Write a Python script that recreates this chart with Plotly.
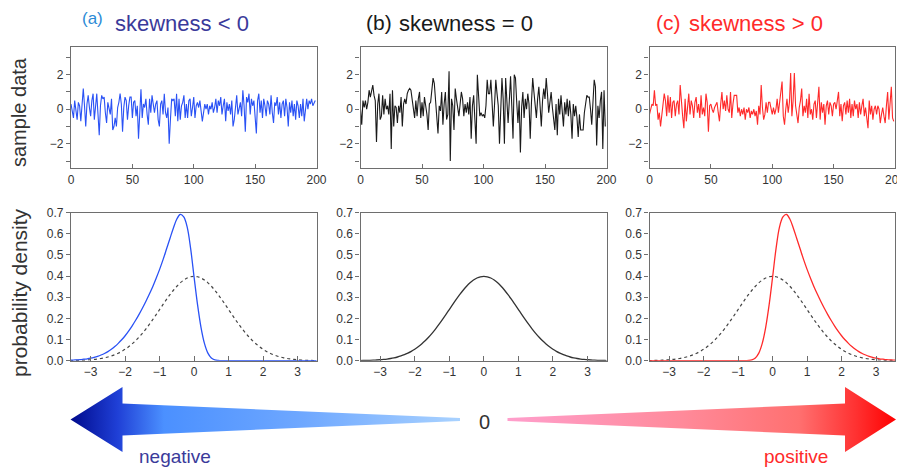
import plotly.graph_objects as go

# ---------------- data ----------------
sample_index = list(range(200))

sample_negative = [
    0.3, -0.2, -0.5, 0.5, -0.1, -0.6, 0.4, 0.2, -0.7, 0.3,
    1.2, 0.2, -1.0, 0.3, 0.8, 0.1, -0.4, 0.5, 0.9, -0.6,
    0.3, 0.9, -0.3, -1.5, 0.2, 0.8, 0.6, 0.7, -0.2, -0.8,
    0.4, 0.1, -0.3, 0.6, -1.2, -1.0, -0.5, -1.0, 0.1, 0.4,
    0.9, 0.3, -1.3, 0.1, 0.7, 0.5, -0.6, 0.2, 0.7, 0.7,
    -0.5, 0.4, 0.5, -0.4, 0.2, -1.7, 0.2, 1.15, -0.5, 0.3,
    0.1, 0.6, -0.3, -0.9, 0.6, -0.2, 0.8, 0.3, -0.2, 0.3,
    0.5, -0.6, -1.0, 0.3, 0.5, -0.3, 0.9, -0.2, -0.5, 0.1,
    -2.0, -0.6, 0.6, 0.5, 0.6, -0.4, 0.9, -0.7, 0.6, -0.6,
    0.2, 0.4, 0.8, -0.5, 0.3, -0.5, 0.5, 0.6, -0.4, 0.1,
    0.7, -0.5, 0.2, 0.4, 0.1, 0.5, -0.2, -0.7, -0.2, 0.3,
    0.0, 0.3, -0.3, 0.2, 0.0, 0.4, -0.2, 0.1, 0.6, -0.2,
    0.5, 0.2, 0.7, -0.3, 0.2, 0.6, -0.7, 0.4, -0.1, 0.3,
    -0.3, 0.5, -1.0, -0.6, 0.1, 0.8, -0.3, 0.2, 0.4, -0.4,
    1.1, 0.2, -1.3, 0.7, 0.4, 0.9, -0.3, 0.6, 0.2, 0.5,
    -0.3, -1.4, 0.5, 0.9, -0.2, 0.5, -0.5, 0.6, 0.2, -0.4,
    0.5, 0.3, -0.3, 0.8, -0.2, -0.8, 0.4, 0.2, 0.7, -0.3,
    0.4, -0.5, 0.3, 0.5, -0.4, 0.6, 0.1, -1.0, 0.4, -0.2,
    0.5, -0.4, 0.3, -0.6, 0.5, 0.2, -0.5, 0.3, -0.4, 0.6,
    -0.7, 0.1, 0.6, 0.0, 0.5, 0.3, 0.6, 0.2, 0.4, 0.5,
]

sample_zero = [
    0.0, -0.9, 0.5, 0.1, 0.5, 0.0, 0.4, 1.1, 0.7, 1.0,
    1.4, 0.8, 0.5, -1.9, 0.3, 0.9, -0.6, -0.4, 0.8, -0.3,
    0.6, 0.0, 0.2, -0.3, 0.9, -2.3, 1.1, -1.0, 0.2, 0.1,
    -0.8, 0.2, -0.2, 0.7, -1.0, 0.3, 0.6, 0.3, 0.9, 1.1,
    1.2, 1.1, 0.6, 0.3, -0.5, 0.5, -0.4, 0.6, 1.0, -0.5,
    0.4, -0.4, 0.7, 0.2, -0.3, -1.2, 0.3, 0.4, 1.2, 1.8,
    1.5, 0.4, -0.2, -1.4, 0.2, -0.1, 1.0, -0.9, 0.3, 1.0,
    -0.6, -0.3, 2.2, -3.0, 0.6, 0.2, -1.2, 1.2, 0.6, 0.1,
    -0.4, 0.3, 1.0, 0.6, -0.4, 0.3, -0.2, 0.4, -0.3, 0.7,
    -1.7, 0.2, 0.8, -0.6, -2.0, 2.0, 0.7, -0.4, -0.2, -0.4,
    -0.3, -0.5, 0.2, 1.7, 0.9, 0.9, 1.7, 0.2, -1.0, 0.3,
    1.7, 0.9, 0.2, -2.0, 0.4, 1.8, 0.6, -2.0, 1.8, 0.3,
    -0.8, 0.5, 1.9, 0.2, -1.7, 2.0, 1.8, 0.4, -0.8, 0.5,
    -2.5, 0.1, 1.0, -0.5, 0.6, 0.0, 0.9, 0.3, -1.7, 0.4,
    1.8, 1.0, 0.4, -0.5, 0.6, 1.3, 0.2, -1.0, 0.5, 1.2,
    0.6, 1.8, 0.9, -0.2, 0.4, 1.0, 0.1, -0.6, -1.2, 0.3,
    -1.5, 0.6, -0.3, 0.8, 0.1, -1.0, 0.4, -0.3, 0.6, -0.4,
    0.5, -0.3, -1.7, 0.3, -0.4, 0.2, -0.5, -1.6, -0.3, -1.2,
    -1.2, -1.2, -0.2, 0.3, 0.8, 0.7, 0.7, 0.0, -0.9, 0.4,
    1.7, 1.3, -2.1, 0.2, -0.5, 0.5, 1.0, -2.3, 1.1, -1.0,
]

sample_positive = [
    -0.3, 0.1, 0.3, 0.2, 1.1, 0.2, 0.3, -0.6, -0.2, -1.0,
    -0.3, 0.2, 0.9, 0.5, -0.4, 0.8, -0.2, 0.7, -0.5, 0.4,
    0.5, -0.4, 0.3, 0.5, -0.3, 1.4, 0.2, -0.4, -1.1, 0.6,
    -0.7, 0.3, 0.9, -0.3, 0.5, 0.2, -0.5, 0.4, 0.7, -0.2,
    0.3, -0.5, 0.8, -0.3, 0.1, -0.4, 0.9, 0.4, -1.3, 0.2,
    0.3, 0.0, -0.2, 0.1, 0.3, 0.4, -0.2, -0.7, 0.3, 1.0,
    0.0, 0.5, -0.1, 0.8, 0.0, -0.2, 1.0, -0.5, 0.3, 0.8,
    0.8, 0.8, -0.2, 0.1, -0.4, 0.0, -0.3, 0.1, -0.6, 0.0,
    -0.2, 0.1, -0.5, -0.1, -0.3, 0.0, -0.4, -0.1, -0.9, 0.2,
    -0.3, 1.4, 0.1, -0.6, -0.3, 0.4, -0.2, 0.4, 0.4, -0.1,
    -0.3, 0.1, -0.3, 0.0, 0.6, -0.2, 0.3, 0.9, 1.6, -0.4,
    -0.9, 0.0, 0.6, -0.2, 0.4, 2.1, -0.4, 0.5, 2.1, 0.2,
    -0.3, -0.8, 0.1, 0.5, 1.2, -0.4, 0.2, -0.2, 0.6, -0.5,
    0.9, -0.3, 0.0, -0.6, 0.3, 0.5, -0.5, 0.2, 1.3, -0.6,
    0.4, -0.2, 0.3, -0.9, 0.2, 0.5, -0.3, 0.4, 0.2, -0.4,
    0.3, 0.4, 0.0, 0.5, 1.0, -0.4, 0.3, -0.7, 0.2, 0.4,
    -0.3, 0.5, -0.2, 0.6, -0.5, 0.3, -0.4, 0.5, 0.0, 0.3,
    -0.5, 0.4, -0.3, 0.2, 0.6, -0.4, 0.1, -0.5, -1.1, 0.5,
    -0.3, 0.2, -0.6, 0.0, 0.2, -0.3, 0.2, 0.0, -0.8, -0.3,
    0.1, -0.4, -0.8, 0.2, 1.0, -0.6, 0.3, 1.3, -0.5, -0.7,
]

density_x = [
    -3.6, -3.5, -3.4, -3.3, -3.2, -3.1, -3.0, -2.9, -2.8, -2.7,
    -2.6, -2.5, -2.4, -2.3, -2.2, -2.1, -2.0, -1.9, -1.8, -1.7,
    -1.6, -1.5, -1.4, -1.3, -1.2, -1.1, -1.0, -0.9, -0.8, -0.7,
    -0.6, -0.5, -0.4, -0.3, -0.2, -0.1, 0.0, 0.1, 0.2, 0.3,
    0.4, 0.5, 0.6, 0.7, 0.8, 0.9, 1.0, 1.1, 1.2, 1.3,
    1.4, 1.5, 1.6, 1.7, 1.8, 1.9, 2.0, 2.1, 2.2, 2.3,
    2.4, 2.5, 2.6, 2.7, 2.8, 2.9, 3.0, 3.1, 3.2, 3.3,
    3.4, 3.5, 3.6,
]

density_normal = [
    0.0006, 0.0009, 0.0012, 0.0017, 0.0024, 0.0033, 0.0044, 0.0060, 0.0079, 0.0104,
    0.0136, 0.0175, 0.0224, 0.0283, 0.0355, 0.0440, 0.0540, 0.0656, 0.0790, 0.0940,
    0.1109, 0.1295, 0.1497, 0.1714, 0.1942, 0.2179, 0.2420, 0.2661, 0.2897, 0.3123,
    0.3332, 0.3521, 0.3683, 0.3814, 0.3910, 0.3970, 0.3989, 0.3970, 0.3910, 0.3814,
    0.3683, 0.3521, 0.3332, 0.3123, 0.2897, 0.2661, 0.2420, 0.2179, 0.1942, 0.1714,
    0.1497, 0.1295, 0.1109, 0.0940, 0.0790, 0.0656, 0.0540, 0.0440, 0.0355, 0.0283,
    0.0224, 0.0175, 0.0136, 0.0104, 0.0079, 0.0060, 0.0044, 0.0033, 0.0024, 0.0017,
    0.0012, 0.0009, 0.0006,
]

density_negative = [
    0.002, 0.003, 0.004, 0.005, 0.007, 0.009, 0.012, 0.016, 0.021, 0.027,
    0.034, 0.043, 0.054, 0.067, 0.082, 0.099, 0.118, 0.140, 0.164, 0.190,
    0.218, 0.248, 0.280, 0.314, 0.350, 0.390, 0.432, 0.478, 0.528, 0.578,
    0.628, 0.670, 0.692, 0.680, 0.632, 0.530, 0.395, 0.265, 0.158, 0.082,
    0.036, 0.013, 0.004, 0.001, 0.0, 0.0, 0.0, 0.0, 0.0, 0.0,
    0.0, 0.0, 0.0, 0.0, 0.0, 0.0, 0.0, 0.0, 0.0, 0.0,
    0.0, 0.0, 0.0, 0.0, 0.0, 0.0, 0.0, 0.0, 0.0, 0.0,
    0.0, 0.0, 0.0,
]

density_positive = [
    0.0, 0.0, 0.0, 0.0, 0.0, 0.0, 0.0, 0.0, 0.0, 0.0,
    0.0, 0.0, 0.0, 0.0, 0.0, 0.0, 0.0, 0.0, 0.0, 0.0,
    0.0, 0.0, 0.0, 0.0, 0.0, 0.0, 0.0, 0.0, 0.0, 0.001,
    0.004, 0.013, 0.036, 0.082, 0.158, 0.265, 0.395, 0.530, 0.632, 0.680,
    0.692, 0.670, 0.628, 0.578, 0.528, 0.478, 0.432, 0.390, 0.350, 0.314,
    0.280, 0.248, 0.218, 0.190, 0.164, 0.140, 0.118, 0.099, 0.082, 0.067,
    0.054, 0.043, 0.034, 0.027, 0.021, 0.016, 0.012, 0.009, 0.007, 0.005,
    0.004, 0.003, 0.002,
]

panel_titles = ["skewness < 0", "skewness = 0", "skewness > 0"]
panel_letters = ["(a)", "(b)", "(c)"]

# ---------------- styling ----------------
VIEW_W, VIEW_H = 905, 468
OFF = 8  # page body margin of the html page
W, H = VIEW_W - OFF, VIEW_H - OFF
FONT = "Liberation Sans, Arial, sans-serif"
BLUE = "#2a52f5"
BLACK = "#1a1a1a"
RED = "#ff2a2a"
FRAME = "#6e6e6e"
TICKC = "#333333"


def px(x):
    return (x - OFF) / W


def py(y):
    return 1 - (y - OFF) / H


col_x = [(71, 316.5), (360.5, 606.5), (649.5, 895)]
top_y = (47, 168)
bot_y = (212.7, 360.7)

fig = go.Figure()

series_top = [(sample_negative, BLUE), (sample_zero, BLACK), (sample_positive, RED)]
series_bot = [(density_negative, BLUE, True), (density_normal, BLACK, False), (density_positive, RED, True)]

layout_axes = {}
for i in range(3):
    n = i + 1
    xa = "x" if n == 1 else f"x{n}"
    ya = "y" if n == 1 else f"y{n}"
    vals, colr = series_top[i]
    fig.add_trace(go.Scatter(x=sample_index, y=vals, mode="lines",
                             line=dict(color=colr, width=1.1),
                             xaxis=xa, yaxis=ya, showlegend=False, hoverinfo="skip"))
    common = dict(showline=True, linecolor=FRAME, linewidth=1.2, mirror=True,
                  showgrid=False, zeroline=False, automargin=False,
                  ticklabeloverflow="allow",
                  tickfont=dict(family=FONT, size=12, color=TICKC),
                  tickcolor=FRAME)
    layout_axes[f"xaxis{'' if n == 1 else n}"] = dict(
        common, domain=[px(col_x[i][0]), px(col_x[i][1])], range=[0, 200],
        anchor=ya, tickmode="linear", tick0=0, dtick=50, ticks="inside", ticklen=4)
    layout_axes[f"yaxis{'' if n == 1 else n}"] = dict(
        common, domain=[py(top_y[1]), py(top_y[0])], range=[-3.4, 3.6],
        anchor=xa, tickmode="linear", tick0=0, dtick=2, ticks="outside", ticklen=4,
        minor=dict(tickmode="linear", tick0=0, dtick=1, ticks="outside", ticklen=4, tickcolor=FRAME))

    m = i + 4
    xb = f"x{m}"
    yb = f"y{m}"
    dens, colr, with_normal = series_bot[i]
    if with_normal:
        fig.add_trace(go.Scatter(x=density_x, y=density_normal, mode="lines",
                                 line=dict(color="#444444", width=1.2, dash="3px,3px", shape="spline"),
                                 xaxis=xb, yaxis=yb, showlegend=False, hoverinfo="skip"))
    fig.add_trace(go.Scatter(x=density_x, y=dens, mode="lines",
                             line=dict(color=colr if i != 1 else "#333333", width=1.3, shape="spline"),
                             xaxis=xb, yaxis=yb, showlegend=False, hoverinfo="skip"))
    layout_axes[f"xaxis{m}"] = dict(
        common, domain=[px(col_x[i][0]), px(col_x[i][1])], range=[-3.57, 3.55],
        anchor=yb, tickmode="linear", tick0=0, dtick=1, ticks="inside", ticklen=5)
    layout_axes[f"yaxis{m}"] = dict(
        common, domain=[py(bot_y[1]), py(bot_y[0])], range=[0, 0.7],
        anchor=xb, tickmode="linear", tick0=0, dtick=0.1, tickformat=".1f",
        ticks="outside", ticklen=4)

# overlay axis for decorative arrows (page pixel coordinates)
layout_axes["xaxis7"] = dict(domain=[0, 1], range=[OFF, VIEW_W], visible=False, anchor="y7",
                             fixedrange=True, automargin=False)
layout_axes["yaxis7"] = dict(domain=[0, 1], range=[VIEW_H, OFF], visible=False, anchor="x7",
                             fixedrange=True, automargin=False)

cy = 419.5
left_arrow_x = [70.5, 122.5, 122.5, 460, 460, 122.5, 122.5, 70.5]
left_arrow_y = [cy, 387, 403.5, cy - 1.5, cy + 1.5, 435.5, 452, cy]
right_arrow_x = [507.5, 845, 845, 896, 845, 845, 507.5, 507.5]
right_arrow_y = [cy - 1.5, 403.5, 387, cy, 452, 435.5, cy + 1.5, cy - 1.5]

fig.add_trace(go.Scatter(
    x=left_arrow_x, y=left_arrow_y, mode="lines", fill="toself",
    line=dict(width=0, color="rgba(0,0,0,0)"),
    fillgradient=dict(type="horizontal",
                      colorscale=[[0, "#000a8c"], [0.12, "#1f3fd6"], [0.24, "#4b90ff"],
                                  [0.6, "#6fa8ff"], [1, "#a9d2ff"]]),
    xaxis="x7", yaxis="y7", showlegend=False, hoverinfo="skip"))
fig.add_trace(go.Scatter(
    x=right_arrow_x, y=right_arrow_y, mode="lines", fill="toself",
    line=dict(width=0, color="rgba(0,0,0,0)"),
    fillgradient=dict(type="horizontal",
                      colorscale=[[0, "#ff9fcc"], [0.45, "#ff8a9a"], [0.75, "#ff7070"],
                                  [0.9, "#ff3030"], [1, "#ff0000"]]),
    xaxis="x7", yaxis="y7", showlegend=False, hoverinfo="skip"))

annotations = []
letter_colors = ["#2b8ad6", BLACK, RED]
title_colors = ["#3a3a9a", BLACK, RED]
letter_pos = [(80, 19, 17), (364, 22, 21), (654, 22, 21)]
title_pos = [113, 397, 687]
for i in range(3):
    lx, ly, ls = letter_pos[i]
    annotations.append(dict(x=px(lx), y=py(ly), xref="paper", yref="paper",
                            text=panel_letters[i], showarrow=False, xanchor="left", yanchor="middle",
                            font=dict(family=FONT, size=ls, color=letter_colors[i])))
    annotations.append(dict(x=px(title_pos[i]), y=py(23), xref="paper", yref="paper",
                            text=panel_titles[i], showarrow=False, xanchor="left", yanchor="middle",
                            font=dict(family=FONT, size=22, color=title_colors[i])))

annotations.append(dict(x=px(19), y=py(112), xref="paper", yref="paper", text="sample data",
                        textangle=-90, showarrow=False, xanchor="center", yanchor="middle",
                        font=dict(family=FONT, size=20, color="#333333")))
annotations.append(dict(x=px(19), y=py(293), xref="paper", yref="paper", text="probability density",
                        textangle=-90, showarrow=False, xanchor="center", yanchor="middle",
                        font=dict(family=FONT, size=21, color="#333333")))
annotations.append(dict(x=px(484), y=py(422), xref="paper", yref="paper", text="0",
                        showarrow=False, xanchor="center", yanchor="middle",
                        font=dict(family=FONT, size=20, color="#333333")))
annotations.append(dict(x=px(175), y=py(456), xref="paper", yref="paper", text="negative",
                        showarrow=False, xanchor="center", yanchor="middle",
                        font=dict(family=FONT, size=19, color="#3a3a9a")))
annotations.append(dict(x=px(796), y=py(456), xref="paper", yref="paper", text="positive",
                        showarrow=False, xanchor="center", yanchor="middle",
                        font=dict(family=FONT, size=19, color=RED)))

fig.update_layout(
    width=W, height=H,
    margin=dict(l=0, r=0, t=0, b=0, pad=0, autoexpand=False),
    paper_bgcolor="white", plot_bgcolor="rgba(0,0,0,0)",
    showlegend=False,
    annotations=annotations,
    **layout_axes,
)

fig.write_html("out.html")
